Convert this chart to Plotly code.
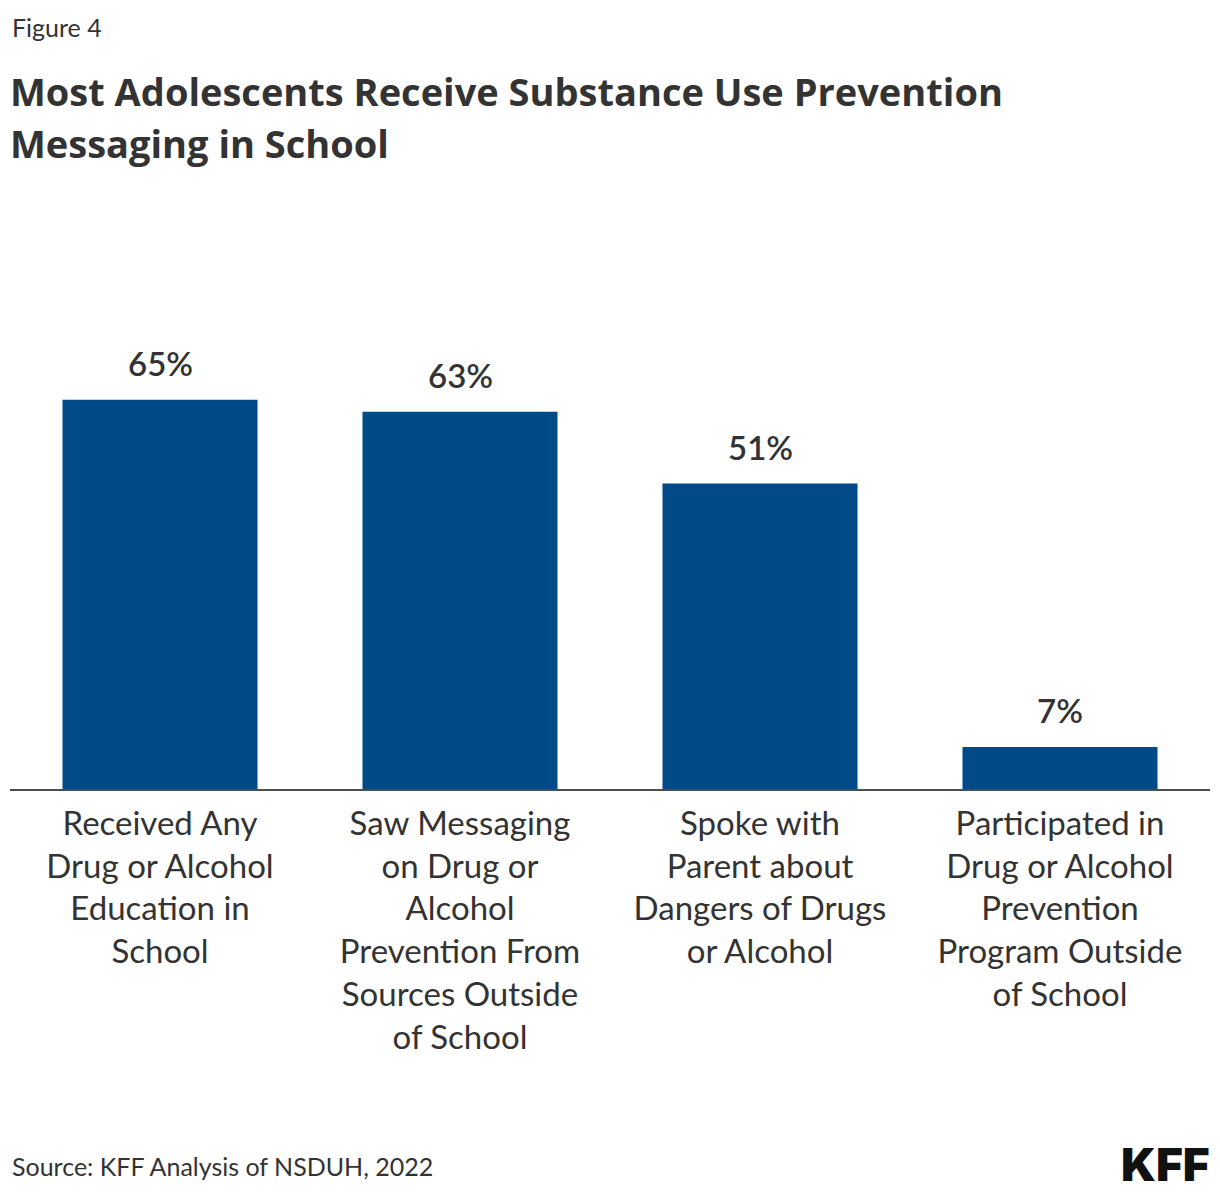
import plotly.graph_objects as go

categories = [
    "Received Any<br>Drug or Alcohol<br>Education in<br>School",
    "Saw Messaging<br>on Drug or<br>Alcohol<br>Prevention From<br>Sources Outside<br>of School",
    "Spoke with<br>Parent about<br>Dangers of Drugs<br>or Alcohol",
    "Participated in<br>Drug or Alcohol<br>Prevention<br>Program Outside<br>of School",
]
values = [65, 63, 51, 7]
value_labels = ["65%", "63%", "51%", "7%"]

FONT = "Source Sans Pro, Lato, sans-serif"
TFONT = "Source Sans Pro, Open Sans, sans-serif"
TXT = "#333333"
BAR = "#004A87"

# page has an 8px body offset; figure coords = page coords - 8
OFF = 8
W, H = 1220 - OFF, 1196 - OFF
T = 190 - OFF
BASE = 789 - OFF

fig = go.Figure()
fig.add_trace(go.Bar(x=categories, y=values, marker_color=BAR, marker_line_width=0,
                     hoverinfo="skip"))

for c, v, lab in zip(categories, values, value_labels):
    fig.add_annotation(x=c, y=v, text=lab, showarrow=False, yanchor="bottom",
                       yshift=15, font=dict(family=FONT, size=33, color=TXT, weight=600))

def top_note(text, ypage, size, xshift=0, family=FONT):
    fig.add_annotation(xref="paper", yref="paper", x=0, xshift=xshift, y=1,
                       yshift=T - (ypage - OFF), text=text, showarrow=False,
                       xanchor="left", yanchor="middle",
                       font=dict(family=family, size=size, color=TXT))

top_note("Figure 4", 27, 25, xshift=0)
top_note("<b>Most Adolescents Receive Substance Use Prevention</b>", 91, 38, xshift=-2, family=TFONT)
top_note("<b>Messaging in School</b>", 143, 38, xshift=-2, family=TFONT)

fig.add_annotation(xref="paper", yref="paper", x=0, xshift=0, y=0,
                   yshift=-(1166 - 789), text="Source: KFF Analysis of NSDUH, 2022",
                   showarrow=False, xanchor="left", yanchor="middle",
                   font=dict(family=FONT, size=25, color=TXT))
fig.add_annotation(xref="paper", yref="paper", x=1, xshift=2, y=0,
                   yshift=-(1164 - 789), text="KFF", showarrow=False,
                   xanchor="right", yanchor="middle",
                   font=dict(family="Inter, sans-serif", size=46, color="#111111", weight=900))

fig.update_layout(
    width=W, height=H,
    margin=dict(l=2, r=10, t=T, b=H - BASE, pad=0),
    plot_bgcolor="white", paper_bgcolor="white",
    bargap=0.35, showlegend=False,
    font=dict(family=FONT, color=TXT),
)
fig.update_xaxes(showline=True, linecolor="#4d4d4d", linewidth=2, ticks="outside",
                 ticklen=4, tickcolor="rgba(0,0,0,0)", showgrid=False,
                 tickfont=dict(family=FONT, size=33, color=TXT), fixedrange=True)
fig.update_yaxes(range=[0, 100], visible=False, showgrid=False, fixedrange=True)

fig.write_html("out.html")
